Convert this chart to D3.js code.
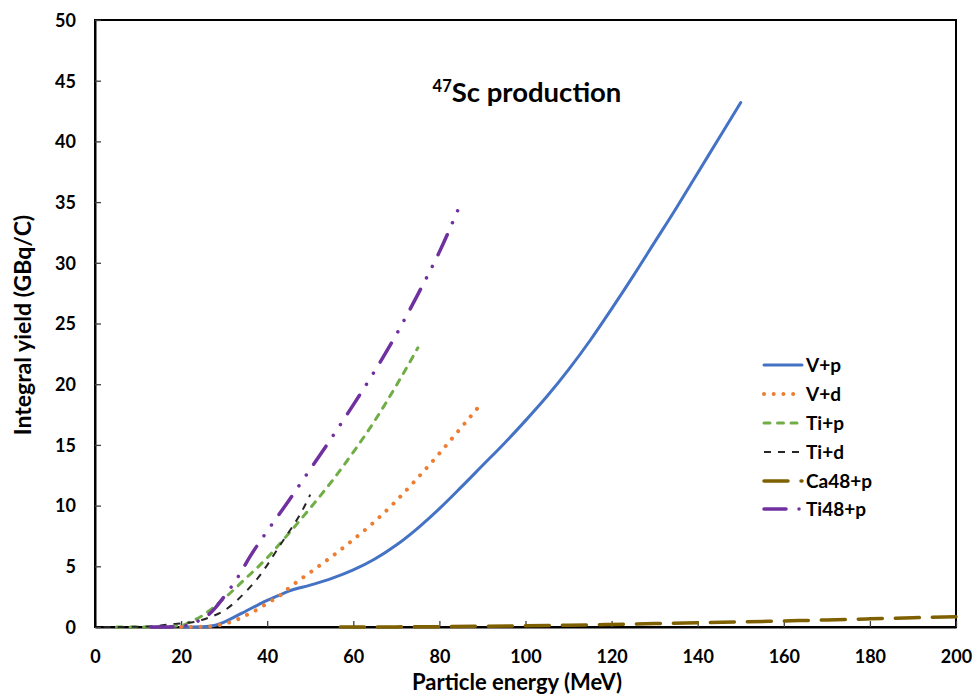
<!DOCTYPE html>
<html>
<head>
<meta charset="utf-8">
<script src="https://cdn.jsdelivr.net/npm/d3@7"></script>
<style>
  html, body { margin: 0; padding: 0; background: #fff; }
  svg { display: block; }
  text { font-family: Lato, "Open Sans", sans-serif; font-weight: bold; fill: #000; }
</style>
</head>
<body>
<svg id="chart" width="974" height="697"></svg>
<script>
// Integral yield (GBq/C) vs particle energy (MeV) for each route, as [energy, yield]
const vP = [[20,0],[25,0.02],[28,0.15],[30,0.4],[32,0.75],[35,1.3],[38,1.85],[40,2.2],[42,2.5],[45,2.95],[50,3.45],[55,4.0],[60,4.7],[65,5.6],[70,6.75],[75,8.15],[80,9.75],[85,11.5],[90,13.3],[95,15.1],[100,17.0],[105,19.0],[110,21.2],[115,23.6],[120,26.2],[125,28.9],[130,31.7],[135,34.5],[140,37.4],[145,40.3],[150,43.2]];
const vD = [[20,0],[25,0.02],[28,0.1],[30,0.25],[33,0.6],[35,0.95],[38,1.5],[40,1.95],[43,2.6],[45,3.2],[50,4.5],[55,5.8],[60,7.2],[65,8.7],[70,10.4],[75,12.3],[80,14.3],[85,16.4],[90,18.5]];
const tiP = [[5,0],[10,0],[15,0.02],[20,0.12],[22,0.4],[25,0.95],[28,1.75],[30,2.35],[35,4.0],[40,5.7],[45,7.7],[50,9.8],[55,12.0],[60,14.4],[65,17.0],[70,19.9],[75,23.0]];
const tiD = [[2,0],[10,0.02],[15,0.1],[18,0.25],[20,0.3],[23,0.42],[25,0.6],[27,0.85],[30,1.35],[33,2.2],[35,2.9],[38,4.1],[40,5.1],[43,6.75],[45,7.8],[48,9.5],[50,10.9]];
const ca48P = [[57,0],[70,0.01],[80,0.03],[90,0.06],[100,0.1],[110,0.15],[120,0.21],[130,0.28],[140,0.35],[150,0.42],[160,0.5],[170,0.58],[180,0.67],[190,0.76],[200,0.85]];
const ti48P = [[13,0],[16,0],[20,0.05],[22,0.2],[24,0.5],[26,0.9],[28,1.6],[30,2.5],[33,4.0],[36,5.8],[40,7.9],[45,10.4],[50,13.0],[55,15.6],[60,18.3],[65,21.1],[70,24.1],[75,27.4],[80,30.9],[84.6,34.6]];

const seriesNames = ["V+p", "V+d", "Ti+p", "Ti+d", "Ca48+p", "Ti48+p"];
const seriesData = [vP, vD, tiP, tiD, ca48P, ti48P];

const xTicks = [0, 20, 40, 60, 80, 100, 120, 140, 160, 180, 200];
const yTicks = [0, 5, 10, 15, 20, 25, 30, 35, 40, 45, 50];

// Line styles per series
const styles = [
  { color: "#4472C4", width: 3, dash: null, cap: "round" },
  { color: "#ED7D31", width: 4, dash: "0.01,9.7", cap: "round" },
  { color: "#70AD47", width: 3, dash: "6,7.5", cap: "round" },
  { color: "#262626", width: 2, dash: "7,7", cap: "butt" },
  { color: "#7F6000", width: 3.5, dash: "24,13", cap: "round" },
  { color: "#7030A0", width: 3.5, dash: "22,13,0.01,13,0.01,13", cap: "round" }
];

const svg = d3.select("#chart");
const plotLeft = 95, plotRight = 956, plotTop = 20, plotBottom = 627;

const x = d3.scaleLinear().domain([0, 200]).range([plotLeft, plotRight]);
const y = d3.scaleLinear().domain([0, 50]).range([plotBottom, plotTop]);

// Plot frame
svg.append("rect")
  .attr("x", plotLeft).attr("y", plotTop)
  .attr("width", plotRight - plotLeft).attr("height", plotBottom - plotTop)
  .attr("fill", "none").attr("stroke", "#000").attr("stroke-width", 2);

// Axes with inward ticks
const xAxis = svg.append("g").attr("transform", `translate(0,${plotBottom})`)
  .call(d3.axisBottom(x).tickValues(xTicks).tickSizeInner(-6).tickSizeOuter(0).tickPadding(23));
const yAxis = svg.append("g").attr("transform", `translate(${plotLeft},0)`)
  .call(d3.axisLeft(y).tickValues(yTicks).tickSizeInner(-6).tickSizeOuter(0).tickPadding(19));

[xAxis, yAxis].forEach(g => {
  g.select(".domain").attr("stroke", "#000").attr("stroke-width", 2);
  g.selectAll(".tick line").attr("stroke", "#404040").attr("stroke-width", 1.3);
  g.selectAll(".tick text")
    .style("font-family", "Lato, 'Open Sans', sans-serif")
    .style("font-weight", "bold")
    .style("font-size", "18px")
    .attr("fill", "#000");
});
yAxis.selectAll(".tick text").attr("dy", "0.35em");

// Series lines
const line = d3.line()
  .x(d => x(d[0]))
  .y(d => y(d[1]))
  .curve(d3.curveMonotoneX);

const plot = svg.append("g");
seriesData.forEach((data, i) => {
  const s = styles[i];
  plot.append("path")
    .datum(data)
    .attr("d", line)
    .attr("fill", "none")
    .attr("stroke", s.color)
    .attr("stroke-width", s.width)
    .attr("stroke-linecap", s.cap)
    .attr("stroke-linejoin", "round")
    .attr("stroke-dasharray", s.dash);
});

// Legend
const legend = svg.append("g");
const legendRows = [365, 394, 423, 452, 481, 509];
seriesNames.forEach((name, i) => {
  const s = styles[i];
  const yy = legendRows[i];
  legend.append("line")
    .attr("x1", 764).attr("x2", 802)
    .attr("y1", yy).attr("y2", yy)
    .attr("stroke", s.color)
    .attr("stroke-width", s.width)
    .attr("stroke-linecap", s.cap)
    .attr("stroke-dasharray", s.dash);
  legend.append("text")
    .attr("x", 806).attr("y", yy)
    .attr("dy", "0.36em")
    .style("font-size", "19px")
    .text(name);
});

// Title
const title = svg.append("text")
  .attr("x", 527).attr("y", 102)
  .attr("text-anchor", "middle")
  .style("font-size", "27.5px");
title.append("tspan").attr("dy", "-10").style("font-size", "16.5px").text("47");
title.append("tspan").attr("dy", "10").text("Sc production");

// Axis titles
svg.append("text")
  .attr("x", 517).attr("y", 690)
  .attr("text-anchor", "middle")
  .style("font-size", "22px")
  .text("Particle energy (MeV)");

svg.append("text")
  .attr("transform", "translate(31,325) rotate(-90)")
  .attr("text-anchor", "middle")
  .style("font-size", "23px")
  .text("Integral yield (GBq/C)");
</script>
</body>
</html>
